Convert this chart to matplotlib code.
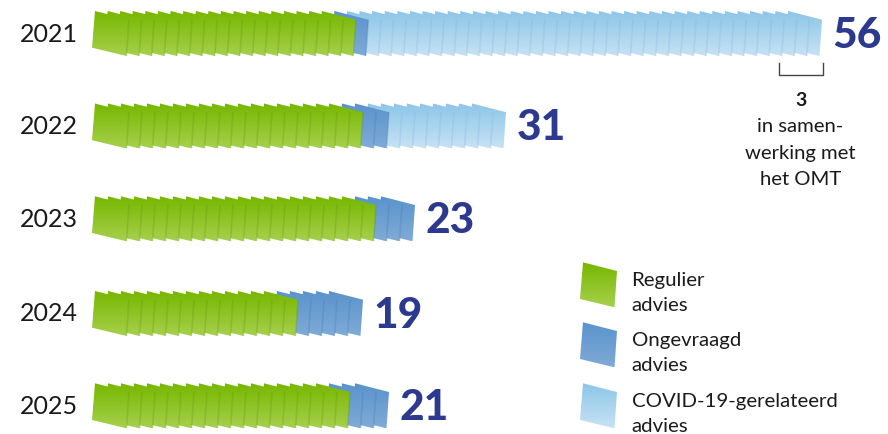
import matplotlib
matplotlib.use("Agg")
import matplotlib.pyplot as plt
import numpy as np
from matplotlib.colors import LinearSegmentedColormap
from matplotlib.patches import Polygon

plt.rcParams['font.family'] = ['Lato', 'DejaVu Sans']

years = ["2021", "2022", "2023", "2024", "2025"]
regulier = [19, 19, 20, 14, 18]
ongevraagd = [1, 2, 3, 5, 3]
covid = [36, 9, 0, 0, 0]  # 2022 shows 30 cards in the picture, labelled 31
totals = [56, 31, 23, 19, 21]

legend_labels = ["Regulier\nadvies", "Ongevraagd\nadvies", "COVID-19-gerelateerd\nadvies"]

# layout, in pixels of the 888x435 picture
row_top = [12, 104.5, 197.3, 292, 384.3]
row_step = [12.6, 13, 13, 13, 13]
legend_top = [263.3, 323.3, 384.3]
card_x0 = 92

gradients = [("#77B700", "#A6D04C"), ("#5A93CC", "#7FABD7"), ("#8DC6E8", "#C6E2F4")]
cmaps = [LinearSegmentedColormap.from_list("c%d" % i, g) for i, g in enumerate(gradients)]
edge_cols = ["#5E8F10", "#3F74AE", "#7FB0DA"]
ramp = np.linspace(0, 1, 64).reshape(-1, 1)

fig = plt.figure(figsize=(8.88, 4.35), dpi=100)
ax = fig.add_axes([0, 0, 1, 1])
ax.set_xlim(0, 888)
ax.set_ylim(435, 0)
ax.axis("off")


def draw_card(x, y, kind, z, edge=True):
    # slanted sheet, x is the left end of the bottom edge, y the top of the sheet
    pts = [(x + 3, y), (x + 37, y + 8.7), (x + 34.5, y + 45), (x, y + 36.7)]
    im = ax.imshow(ramp, cmap=cmaps[kind], extent=(x, x + 38, y + 45, y),
                   aspect="auto", zorder=z, vmin=0, vmax=1)
    clip = Polygon(pts, closed=True, transform=ax.transData)
    im.set_clip_path(clip)
    if edge:
        ax.plot([pts[1][0], pts[2][0]], [pts[1][1], pts[2][1]], color=edge_cols[kind],
                lw=1.2, alpha=0.25, zorder=z, solid_capstyle="butt")


for r in range(len(years)):
    kinds = [0] * regulier[r] + [1] * ongevraagd[r] + [2] * covid[r]
    n = len(kinds)
    for i, kind in enumerate(kinds):
        # earlier cards lie on top of the later ones
        draw_card(card_x0 + i * row_step[r], row_top[r], kind, 100 + n - i, edge=i < n - 1)
    right = card_x0 + (n - 1) * row_step[r] + 37
    ax.text(19.5, row_top[r] + 22, years[r], fontsize=18, color="#1A1A1A", va="center", ha="left")
    ax.text(right + 10.5, row_top[r] + 24, str(totals[r]), fontsize=30.5, fontweight="black",
            color="#2B3A8F", va="center", ha="left")

ax.set_xlim(0, 888)
ax.set_ylim(435, 0)

# bracket for the OMT cards
ax.plot([778.5, 778.5, 822.5, 822.5], [64, 76, 76, 64], color="#444444", lw=1, zorder=5)
ax.text(800.5, 100, "3", fontsize=14, fontweight="bold", color="#1A1A1A", ha="center", va="center")
for y, line in zip([127, 154, 180], ["in samen-", "werking met", "het OMT"]):
    ax.text(800.5, y, line, fontsize=14.6, color="#1A1A1A", ha="center", va="center")

# legend
for k, label in enumerate(legend_labels):
    draw_card(580, legend_top[k], k, 50, edge=False)
    first, second = label.split("\n")
    ax.text(631.5, legend_top[k] + 17, first, fontsize=14.7, color="#1A1A1A", va="center", ha="left")
    ax.text(631.5, legend_top[k] + 42.5, second, fontsize=14.7, color="#1A1A1A", va="center", ha="left")

fig.savefig("out.png", dpi=100)
